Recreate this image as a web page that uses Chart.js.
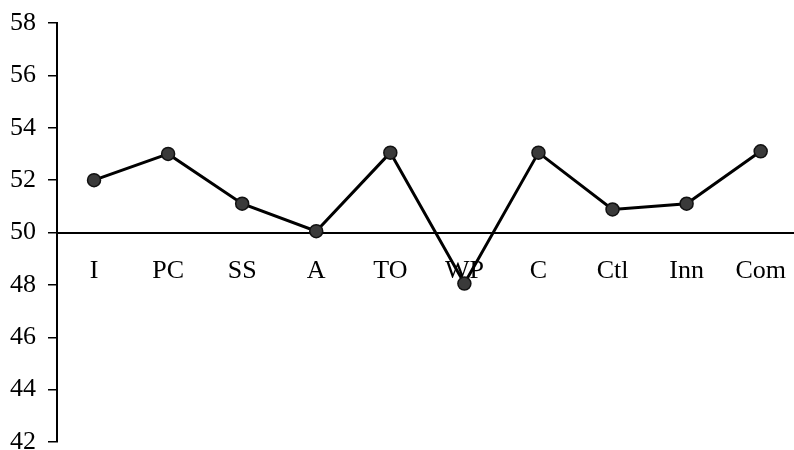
<!DOCTYPE html>
<html>
<head>
<meta charset="utf-8">
<script src="https://cdn.jsdelivr.net/npm/chart.js@4/dist/chart.umd.min.js"></script>
<style>
  html, body { margin: 0; padding: 0; background: #fff; }
  #wrap { width: 794px; height: 450px; }
</style>
</head>
<body>
<div id="wrap"><canvas id="grafico" width="794" height="450"></canvas></div>
<script>
// dados
const categorias = ['I', 'PC', 'SS', 'A', 'TO', 'WP', 'C', 'Ctl', 'Inn', 'Com'];
const valores = [52.0, 53.0, 51.1, 50.05, 53.05, 48.05, 53.05, 50.88, 51.1, 53.1];
const yMin = 42;
const yMax = 58;
const yPasso = 2;

const fonteSerif = { family: '"Liberation Serif", "Times New Roman", serif', size: 26 };

const pontos = valores.map((v, i) => ({ x: i, y: v }));

const ctx = document.getElementById('grafico').getContext('2d');

new Chart(ctx, {
    type: 'line',
    data: {
        datasets: [{
            data: pontos,
            borderColor: '#000',
            borderWidth: 3,
            pointRadius: 6.5,
            pointBackgroundColor: '#3a3a3a',
            pointBorderColor: '#111',
            pointBorderWidth: 1.5,
            tension: 0,
            fill: false,
            clip: false
        }]
    },
    options: {
        responsive: false,
        animation: false,
        layout: { autoPadding: false, padding: { top: 23, right: 0, bottom: 8, left: 0 } },
        plugins: {
            legend: { display: false },
            tooltip: { enabled: false }
        },
        scales: {
            x: {
                type: 'linear',
                position: { y: 50 },
                min: -0.5,
                max: 9.45,
                afterFit: (s) => { s.paddingLeft = 0; s.paddingRight = 0; },
                grid: { display: false },
                border: { display: true, color: '#000', width: 2 },
                ticks: {
                    stepSize: 1,
                    includeBounds: false,
                    autoSkip: false,
                    maxRotation: 0,
                    padding: 15,
                    color: '#000',
                    font: fonteSerif,
                    callback: (v) => Number.isInteger(v) ? categorias[v] : ''
                }
            },
            y: {
                min: yMin,
                max: yMax,
                afterFit: (s) => { s.width = 57; s.paddingTop = 0; s.paddingBottom = 0; },
                border: { display: true, color: '#000', width: 2 },
                grid: {
                    drawOnChartArea: false,
                    drawTicks: true,
                    tickLength: 9,
                    color: '#000',
                    lineWidth: 1.5
                },
                ticks: {
                    stepSize: yPasso,
                    padding: 12,
                    color: '#000',
                    font: fonteSerif
                }
            }
        }
    }
});
</script>
</body>
</html>
